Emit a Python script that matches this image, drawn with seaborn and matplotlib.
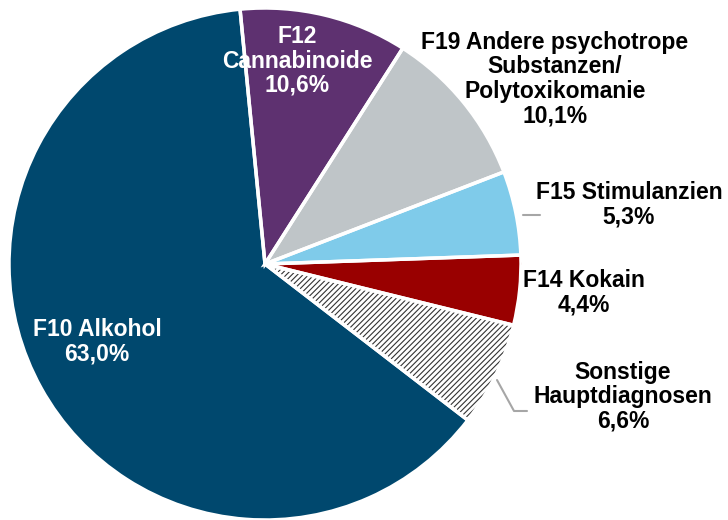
import numpy as np
import matplotlib
matplotlib.use("Agg")
import matplotlib.pyplot as plt
from matplotlib.patches import Wedge
import seaborn as sns

# Daten: Hauptdiagnosen (Anteile in %), im Uhrzeigersinn ab oben
kategorien = ["F12 Cannabinoide", "F19 Andere psychotrope Substanzen/Polytoxikomanie",
              "F15 Stimulanzien", "F14 Kokain", "Sonstige Hauptdiagnosen", "F10 Alkohol"]
anteile = [10.6, 10.1, 5.3, 4.4, 6.6, 63.0]
beschriftungen = ["F12\nCannabinoide", "F19 Andere psychotrope\nSubstanzen/\nPolytoxikomanie",
                  "F15 Stimulanzien", "F14 Kokain", "Sonstige\nHauptdiagnosen", "F10 Alkohol"]
farben = ["#5E3170", "#BFC5C8", "#7FCBEA", "#990000", "#FFFFFF", "#00486E"]

sns.set_theme(style="white")
plt.rcParams['font.family'] = ['Liberation Sans', 'DejaVu Sans']
plt.rcParams['hatch.linewidth'] = 0.8

fig = plt.figure(figsize=(7.28, 5.2), dpi=100)
# Torte: Mittelpunkt (265, 264) px, Radius 256 px
ax = fig.add_axes([9 / 728, 0, 512 / 728, 512 / 520])
ax.axis("off")

wedges, _ = ax.pie(anteile, colors=farben, startangle=95.6, counterclock=False,
                   radius=1, wedgeprops=dict(edgecolor="white", linewidth=0))

# Schraffur für "Sonstige"
w_sonst = wedges[4]
w_sonst.set_edgecolor("#333333")
w_sonst.set_hatch("//////")
w_sonst.set_linewidth(0)

# weiße Trennlinien
for w in wedges:
    ax.add_patch(Wedge(w.center, w.r, w.theta1, w.theta2, fill=False,
                       edgecolor="white", linewidth=2.5, zorder=3))
ax.set_aspect("equal", adjustable="datalim")
ax.set_xlim(-1, 1)
ax.set_ylim(-1, 1)


def px(x, y):
    # Pixel -> Datenkoordinaten
    return (x - 265) / 256, (264 - y) / 256


text_pos = [(297, 61), (555, 79), (629, 205), (584, 293), (623, 397), (97, 342)]
text_farbe = ["white", "black", "black", "black", "black", "white"]
for lab, wert, pos, col in zip(beschriftungen, anteile, text_pos, text_farbe):
    x, y = px(*pos)
    ax.text(x, y, f"{lab}\n{wert:.1f}%".replace(".", ","), ha="center", va="center",
            fontsize=16.5, fontweight="bold", color=col, linespacing=1.08,
            clip_on=False, zorder=5)

# Führungslinien
grau = "#A6A6A6"
for i, pts in [(2, [(523, 215), (540, 215)]), (4, [(497, 380), (514, 411), (527, 411)])]:
    xy = np.array([px(*p) for p in pts])
    ax.plot(xy[:, 0], xy[:, 1], color=grau, linewidth=1.5, clip_on=False, zorder=4)

fig.savefig("out.png", dpi=100)
